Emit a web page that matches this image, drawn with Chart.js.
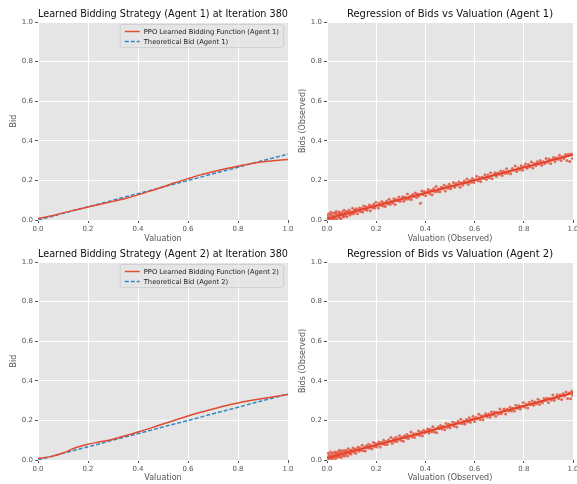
<!DOCTYPE html>
<html>
<head>
<meta charset="utf-8">
<script src="https://cdn.jsdelivr.net/npm/chart.js@4.4.1/dist/chart.umd.min.js"></script>
<style>
  body { margin: 0; background: #fff; width: 577px; height: 484px; overflow: hidden; position: relative; }
  canvas { position: absolute; }
</style>
</head>
<body>
<canvas id="c1" width="300" height="248" style="left:0;top:0"></canvas>
<canvas id="c2" width="289" height="248" style="left:288px;top:0"></canvas>
<canvas id="c3" width="300" height="244" style="left:0;top:240px"></canvas>
<canvas id="c4" width="289" height="244" style="left:288px;top:240px"></canvas>
<script>
// ---- data ----
var tickValues = [0, 0.2, 0.4, 0.6, 0.8, 1.0];

var valuationGrid = [0, 0.05, 0.1, 0.15, 0.2, 0.25, 0.3, 0.35, 0.4, 0.45, 0.5, 0.55, 0.6, 0.65, 0.7, 0.75, 0.8, 0.85, 0.9, 0.95, 1.0];
var ppoBidA1 = [0.007, 0.02, 0.036, 0.051, 0.066, 0.08, 0.094, 0.109, 0.127, 0.147, 0.167, 0.189, 0.209, 0.228, 0.244, 0.259, 0.272, 0.284, 0.294, 0.301, 0.306];
var ppoBidA2 = [0.008, 0.017, 0.035, 0.062, 0.08, 0.092, 0.105, 0.122, 0.141, 0.161, 0.182, 0.202, 0.222, 0.241, 0.258, 0.274, 0.288, 0.3, 0.311, 0.321, 0.331];

var theoryVal = [0, 1];
var theoryBid = [0, 0.3333];

var fitValA1 = [0, 1], fitBidA1 = [0.008, 0.33];
var fitValA2 = [0, 1], fitBidA2 = [0.01, 0.338];

// observed (valuation, bid) samples, agent 1
var observedA1 = [
  [.001,.019],[.004,.002],[.006,.030],[.009,.013],[.011,.002],[.014,.028],[.016,.039],[.019,.009],[.022,.022],[.024,.003],
  [.027,.035],[.029,.017],[.032,.009],[.035,.031],[.037,.043],[.040,.005],[.043,.026],[.045,.019],[.048,.040],[.051,.012],
  [.053,.033],[.056,.007],[.059,.028],[.061,.041],[.064,.022],[.067,.015],[.069,.049],[.072,.034],[.075,.022],[.078,.043],
  [.081,.017],[.084,.040],[.087,.033],[.090,.051],[.093,.025],[.097,.041],[.100,.032],[.104,.059],[.108,.032],[.112,.050],
  [.115,.041],[.119,.057],[.124,.032],[.128,.049],[.132,.060],[.136,.043],[.141,.058],[.145,.041],[.149,.071],[.154,.053],
  [.158,.067],[.163,.049],[.167,.063],[.172,.076],[.176,.047],[.181,.071],[.186,.061],[.190,.079],[.195,.061],[.199,.090],
  [.204,.073],[.209,.061],[.213,.084],[.218,.075],[.223,.093],[.228,.071],[.232,.086],[.237,.068],[.242,.095],[.247,.082],
  [.252,.105],[.257,.078],[.262,.095],[.267,.086],[.272,.107],[.277,.078],[.282,.104],[.287,.097],[.292,.116],[.297,.093],
  [.302,.106],[.307,.117],[.312,.095],[.317,.116],[.322,.105],[.327,.131],[.333,.106],[.338,.120],[.343,.103],[.348,.129],
  [.353,.119],[.359,.136],[.364,.114],[.369,.131],[.374,.121],[.380,.084],[.385,.147],[.390,.129],[.395,.144],[.401,.123],
  [.406,.140],[.411,.154],[.417,.132],[.422,.149],[.427,.128],[.433,.158],[.438,.143],[.443,.169],[.449,.144],[.454,.157],
  [.459,.143],[.465,.165],[.470,.158],[.476,.176],[.481,.147],[.487,.169],[.492,.160],[.497,.180],[.503,.158],[.508,.172],
  [.514,.190],[.519,.166],[.525,.184],[.530,.175],[.536,.193],[.541,.166],[.547,.188],[.552,.177],[.558,.197],[.563,.187],
  [.569,.207],[.575,.180],[.580,.200],[.586,.191],[.591,.210],[.597,.190],[.603,.204],[.608,.221],[.614,.198],[.620,.215],
  [.625,.195],[.631,.216],[.637,.210],[.642,.228],[.648,.205],[.654,.227],[.660,.214],[.665,.239],[.671,.208],[.677,.229],
  [.683,.239],[.689,.221],[.694,.237],[.700,.231],[.706,.248],[.712,.225],[.718,.246],[.724,.236],[.730,.259],[.735,.236],
  [.741,.248],[.747,.233],[.753,.260],[.759,.251],[.765,.273],[.771,.245],[.777,.263],[.783,.254],[.789,.274],[.795,.251],
  [.801,.270],[.807,.283],[.813,.261],[.819,.280],[.825,.269],[.831,.293],[.837,.263],[.843,.285],[.849,.274],[.855,.294],
  [.861,.283],[.867,.301],[.873,.277],[.879,.294],[.885,.285],[.891,.311],[.897,.292],[.903,.308],[.909,.285],[.915,.304],
  [.921,.316],[.927,.296],[.933,.314],[.939,.307],[.945,.327],[.951,.301],[.957,.320],[.963,.311],[.969,.331],[.975,.301],
  [.981,.332],[.987,.296],[.993,.333],[.998,.311]
];

// observed (valuation, bid) samples, agent 2
var observedA2 = [
  [.002,.015],[.005,.034],[.007,.004],[.010,.024],[.013,.011],[.015,.041],[.018,.023],[.020,.006],[.023,.034],[.026,.014],
  [.028,.021],[.031,.040],[.034,.007],[.036,.031],[.039,.021],[.042,.039],[.044,.014],[.047,.031],[.050,.049],[.052,.020],
  [.055,.040],[.058,.013],[.060,.031],[.063,.048],[.066,.023],[.068,.037],[.071,.020],[.074,.048],[.077,.031],[.080,.044],
  [.083,.020],[.086,.057],[.089,.042],[.092,.032],[.095,.051],[.098,.030],[.102,.047],[.106,.061],[.110,.040],[.113,.056],
  [.117,.034],[.121,.052],[.126,.064],[.130,.044],[.134,.060],[.138,.051],[.143,.075],[.147,.047],[.151,.063],[.156,.045],
  [.160,.072],[.165,.062],[.169,.079],[.174,.059],[.178,.073],[.183,.057],[.188,.089],[.192,.068],[.197,.083],[.202,.066],
  [.206,.079],[.211,.091],[.216,.066],[.221,.088],[.225,.081],[.230,.100],[.235,.078],[.240,.093],[.245,.078],[.250,.102],
  [.255,.093],[.260,.114],[.265,.083],[.270,.106],[.275,.094],[.280,.115],[.285,.093],[.290,.107],[.295,.123],[.300,.100],
  [.305,.115],[.310,.095],[.315,.122],[.320,.111],[.325,.129],[.331,.108],[.336,.123],[.341,.142],[.346,.116],[.351,.133],
  [.356,.114],[.362,.133],[.367,.128],[.372,.146],[.377,.125],[.383,.142],[.388,.122],[.393,.150],[.398,.138],[.404,.144],
  [.409,.157],[.414,.136],[.420,.155],[.425,.143],[.430,.168],[.436,.141],[.441,.158],[.446,.138],[.452,.167],[.457,.159],
  [.462,.174],[.468,.156],[.473,.170],[.479,.153],[.484,.184],[.489,.166],[.495,.180],[.500,.163],[.506,.178],[.511,.192],
  [.517,.171],[.522,.187],[.528,.167],[.533,.196],[.539,.185],[.544,.206],[.550,.183],[.555,.196],[.561,.182],[.567,.205],
  [.572,.193],[.578,.213],[.583,.191],[.589,.204],[.594,.221],[.600,.194],[.606,.215],[.611,.207],[.617,.231],[.623,.205],
  [.628,.224],[.634,.203],[.640,.223],[.645,.234],[.651,.218],[.657,.232],[.663,.216],[.668,.243],[.674,.229],[.680,.243],
  [.686,.221],[.691,.241],[.697,.232],[.703,.258],[.709,.233],[.715,.247],[.720,.257],[.726,.232],[.732,.256],[.738,.248],
  [.744,.267],[.750,.248],[.756,.261],[.762,.247],[.768,.277],[.774,.261],[.780,.274],[.786,.257],[.792,.271],[.798,.290],
  [.804,.267],[.810,.281],[.816,.263],[.822,.290],[.828,.280],[.834,.298],[.840,.276],[.846,.293],[.852,.284],[.858,.307],
  [.864,.280],[.870,.298],[.876,.289],[.882,.311],[.888,.300],[.894,.312],[.900,.291],[.906,.312],[.912,.303],[.918,.328],
  [.924,.302],[.930,.317],[.936,.330],[.942,.310],[.948,.328],[.954,.306],[.960,.335],[.966,.323],[.972,.343],[.978,.311],
  [.984,.339],[.990,.309],[.995,.347],[.999,.326]
];

var RED = '#E24A33', BLUE = '#348ABD', PANEL = '#E5E5E5', TICK = '#555555';

Chart.defaults.font.family = '"DejaVu Sans", sans-serif';
Chart.defaults.animation = false;

function pairs(xs, ys) {
  return xs.map(function(x, i) { return { x: x, y: ys[i] }; });
}

// grey ggplot panel behind the plot
var panelBg = {
  id: 'panelBg',
  beforeDraw: function(chart) {
    var a = chart.chartArea, ctx = chart.ctx;
    ctx.save();
    ctx.fillStyle = PANEL;
    ctx.fillRect(a.left, a.top, a.right - a.left, a.bottom - a.top);
    ctx.restore();
  }
};

// matplotlib-like legend in the upper right corner of the plot
var cornerLegend = {
  id: 'cornerLegend',
  afterDraw: function(chart) {
    var o = chart.options.plugins.cornerLegend;
    if (!o || !o.show) return;
    var ctx = chart.ctx, a = chart.chartArea;
    var sets = chart.data.datasets;
    ctx.save();
    ctx.font = '6.75px "DejaVu Sans"';
    var tw = 0;
    sets.forEach(function(d) { tw = Math.max(tw, ctx.measureText(d.label).width); });
    var w = tw + 28, h = 23;
    var x0 = a.right - 5 - w, y0 = a.top + 2;
    ctx.beginPath();
    ctx.roundRect(x0 + 0.5, y0 + 0.5, w, h, 2);
    ctx.fillStyle = 'rgba(229,229,229,0.8)';
    ctx.fill();
    ctx.strokeStyle = 'rgba(204,204,204,0.8)';
    ctx.lineWidth = 1;
    ctx.stroke();
    sets.forEach(function(d, i) {
      var cy = y0 + 7.5 + i * 10;
      ctx.beginPath();
      ctx.setLineDash(d.borderDash || []);
      ctx.strokeStyle = d.borderColor;
      ctx.lineWidth = 1.5;
      ctx.moveTo(x0 + 5, cy);
      ctx.lineTo(x0 + 20, cy);
      ctx.stroke();
      ctx.setLineDash([]);
      ctx.fillStyle = '#222';
      ctx.textBaseline = 'middle';
      ctx.fillText(d.label, x0 + 24, cy + 0.5);
    });
    ctx.restore();
  }
};

function makeChart(id, cfg) {
  return new Chart(document.getElementById(id), {
    type: 'scatter',
    data: { datasets: cfg.datasets },
    plugins: [panelBg, cornerLegend],
    options: {
      responsive: false,
      layout: { padding: { left: cfg.padLeft, right: cfg.padRight, top: 0, bottom: 0 } },
      plugins: {
        legend: { display: false },
        tooltip: { enabled: false },
        title: {
          display: true, text: cfg.title, fullSize: false, color: '#111',
          font: { size: 10, weight: 'normal' }, padding: { top: 8, bottom: 2 }
        },
        cornerLegend: { show: cfg.legend }
      },
      scales: {
        x: {
          type: 'linear', min: 0, max: 1,
          afterBuildTicks: function(s) { s.ticks = tickValues.map(function(v) { return { value: v }; }); },
          afterFit: function(s) { s.height = cfg.xHeight; s.paddingLeft = 0; s.paddingRight = 0; },
          ticks: { color: TICK, font: { size: 7 }, padding: 2, maxRotation: 0, autoSkip: false,
                   callback: function(v) { return v.toFixed(1); } },
          grid: { color: '#fff', lineWidth: 1, tickColor: TICK, tickLength: 3 },
          border: { display: false },
          title: { display: true, text: cfg.xLabel, color: TICK, font: { size: 8 }, padding: { top: 0, bottom: cfg.xTitlePad } }
        },
        y: {
          type: 'linear', min: 0, max: 1,
          afterBuildTicks: function(s) { s.ticks = tickValues.map(function(v) { return { value: v }; }); },
          afterFit: function(s) { s.width = cfg.yWidth; s.paddingTop = 0; s.paddingBottom = 0; },
          ticks: { color: TICK, font: { size: 7 }, padding: 2, autoSkip: false,
                   callback: function(v) { return v.toFixed(1); } },
          grid: { color: '#fff', lineWidth: 1, tickColor: TICK, tickLength: 3 },
          border: { display: false },
          title: { display: true, text: cfg.yLabel, color: TICK, font: { size: 8 }, padding: { top: 0, bottom: 0 } }
        }
      }
    }
  });
}

function strategySets(agent, ppo) {
  return [
    { label: 'PPO Learned Bidding Function (Agent ' + agent + ')', data: pairs(valuationGrid, ppo),
      showLine: true, borderColor: RED, borderWidth: 1.5, pointRadius: 0, tension: 0.3 },
    { label: 'Theoretical Bid (Agent ' + agent + ')', data: pairs(theoryVal, theoryBid),
      showLine: true, borderColor: BLUE, borderWidth: 1.5, borderDash: [4, 2], pointRadius: 0 }
  ];
}

function regressionSets(obs, fitX, fitY) {
  return [
    { label: 'observed', data: obs.map(function(p) { return { x: p[0], y: p[1] }; }),
      pointRadius: 1.5, pointBorderWidth: 0, backgroundColor: 'rgba(226,74,51,0.8)' },
    { label: 'fit', data: pairs(fitX, fitY), showLine: true, borderColor: '#E8391F', borderWidth: 2, pointRadius: 0 }
  ];
}

makeChart('c1', { title: 'Learned Bidding Strategy (Agent 1) at Iteration 380', xLabel: 'Valuation', yLabel: 'Bid',
  padLeft: 9, padRight: 12, yWidth: 29, xHeight: 28, xTitlePad: 4, legend: true, datasets: strategySets(1, ppoBidA1) });
makeChart('c2', { title: 'Regression of Bids vs Valuation (Agent 1)', xLabel: 'Valuation (Observed)', yLabel: 'Bids (Observed)',
  padLeft: 10, padRight: 2, yWidth: 29, xHeight: 28, xTitlePad: 4, legend: false, datasets: regressionSets(observedA1, fitValA1, fitBidA1) });
makeChart('c3', { title: 'Learned Bidding Strategy (Agent 2) at Iteration 380', xLabel: 'Valuation', yLabel: 'Bid',
  padLeft: 9, padRight: 12, yWidth: 29, xHeight: 24, xTitlePad: 1, legend: true, datasets: strategySets(2, ppoBidA2) });
makeChart('c4', { title: 'Regression of Bids vs Valuation (Agent 2)', xLabel: 'Valuation (Observed)', yLabel: 'Bids (Observed)',
  padLeft: 10, padRight: 2, yWidth: 29, xHeight: 24, xTitlePad: 1, legend: false, datasets: regressionSets(observedA2, fitValA2, fitBidA2) });
</script>
</body>
</html>
